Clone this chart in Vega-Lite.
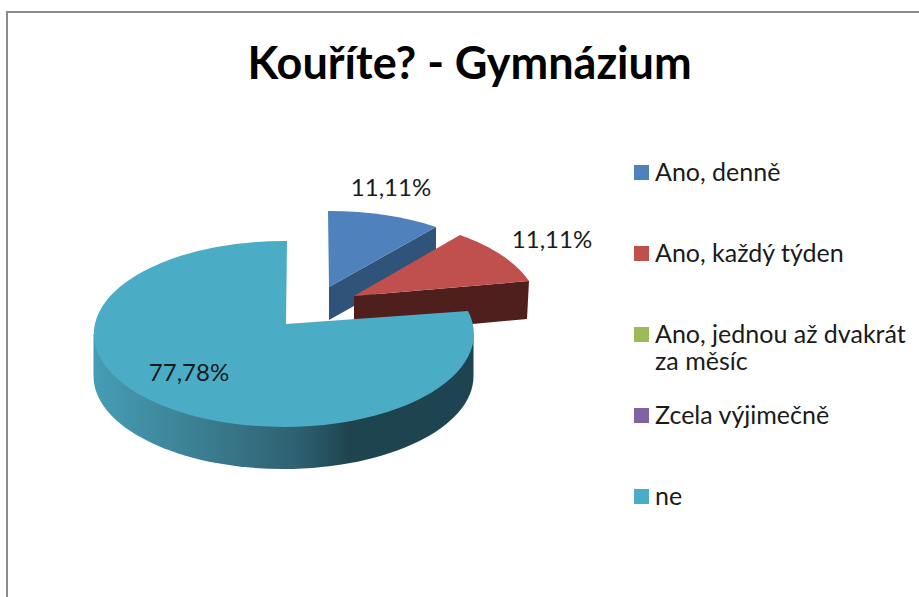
{
"$schema":"https://vega.github.io/schema/vega-lite/v6.json",
"width":919,"height":597,"autosize":"none","padding":0,"background":"white",
"config":{"view":{"stroke":null}},
"title":{"text":"Kouříte? - Gymnázium","font":"Lato","fontWeight":"bold","fontSize":45,"color":"#000000","anchor":"middle","frame":"group","dx":10,"offset":-133,"baseline":"bottom"},
"data":{"values":[
{"category":"Ano, denně","value":11.11,"label":"11,11%"},
{"category":"Ano, každý týden","value":11.11,"label":"11,11%"},
{"category":"Ano, jednou až dvakrát za měsíc","value":0,"label":""},
{"category":"Zcela výjimečně","value":0,"label":""},
{"category":"ne","value":77.78,"label":"77,78%"}
]},
"layer":[
{"data":{"values":[{"frame":"chart area"}]},"mark":{"type":"point","filled":false,"size":4,"stroke":"#8c8c8c","strokeWidth":2,"opacity":1,"shape":"M-452.5,299 L-452.5,-286.5 L459.5,-286.5"}},
{"transform":[{"filter":"datum.category==='Ano, denně'"}],"mark":{"type":"point","filled":true,"size":4,"opacity":1,"fill":"#2f5379","shape":"M-130.5,-11.5 L-23.5,-71.5 L-23.5,-38.5 L-130.5,21.5 Z"}},
{"transform":[{"filter":"datum.category==='Ano, každý týden'"}],"mark":{"type":"point","filled":true,"size":4,"opacity":1,"fill":"#4f1f1d","shape":"M-105.5,-2.5 L69.5,-17.5 L67.5,20.5 L-105.5,36.5 Z"}},
{"transform":[{"filter":"datum.category==='ne'"}],"mark":{"type":"point","filled":true,"size":4,"opacity":1,"shape":"M-366,35.5 L14,35.5 L14,77.5 A190 93 0 0 1 -366,77.5 Z","fill":{"x1":0,"y1":0,"x2":1,"y2":0,"gradient":"linear","stops":[{"offset":0,"color":"#469db5"},{"offset":0.28,"color":"#3b7f92"},{"offset":0.54,"color":"#2e6070"},{"offset":0.67,"color":"#1f4450"},{"offset":1,"color":"#1d4450"}]}}},
{"mark":{"type":"point","filled":true,"size":0,"opacity":0},
 "encoding":{
  "color":{"field":"category","type":"nominal","scale":{"domain":["Ano, denně","Ano, každý týden","Ano, jednou až dvakrát za měsíc","Zcela výjimečně","ne"],"range":["#4f81bd","#c0504d","#9bbb59","#8064a2","#4bacc6"]},
   "legend":{"title":null,"orient":"none","legendX":629,"legendY":160,"symbolType":"square","symbolSize":225,"symbolStrokeWidth":0,"symbolOpacity":1,"labelFont":"Lato","labelFontSize":25,"labelColor":"#1a1a1a","labelOffset":1,"labelLimit":290,"rowPadding":28,"gridAlign":"all","columns":1,
    "labelExpr":"datum.label==='Ano, jednou až dvakrát za měsíc'?['Ano, jednou až dvakrát','za měsíc']:datum.label"}}
 }},
{"transform":[{"filter":"datum.category==='Ano, denně'"}],"mark":{"type":"point","filled":true,"size":4,"opacity":1,"shape":"M-130.5,-11.5 L-131.5,-87.5 A190 93 0 0 1 -23.5,-71.5 Z"},"encoding":{"color":{"field":"category","type":"nominal"}}},
{"transform":[{"filter":"datum.category==='Ano, každý týden'"}],"mark":{"type":"point","filled":true,"size":4,"opacity":1,"shape":"M-105.5,-2.5 L0.5,-63.5 A190 93 0 0 1 69.5,-17.5 Z"},"encoding":{"color":{"field":"category","type":"nominal"}}},
{"transform":[{"filter":"datum.category==='ne'"}],"mark":{"type":"point","filled":true,"size":4,"opacity":1,"shape":"M-173.5,25.5 L-172.5,-57.5 A190 93 0 1 0 8.5,12.5 Z"},"encoding":{"color":{"field":"category","type":"nominal"}}},
{"transform":[{"filter":"datum.category==='Ano, denně'"}],"mark":{"type":"text","font":"Lato","fontSize":24,"color":"#1a1a1a","dx":-68.5,"dy":-109.5},"encoding":{"text":{"field":"label"}}},
{"transform":[{"filter":"datum.category==='Ano, každý týden'"}],"mark":{"type":"text","font":"Lato","fontSize":24,"color":"#1a1a1a","dx":92.5,"dy":-57.5},"encoding":{"text":{"field":"label"}}},
{"transform":[{"filter":"datum.category==='ne'"}],"mark":{"type":"text","font":"Lato","fontSize":24,"color":"#1a1a1a","dx":-270.5,"dy":75},"encoding":{"text":{"field":"label"}}}
]
}
